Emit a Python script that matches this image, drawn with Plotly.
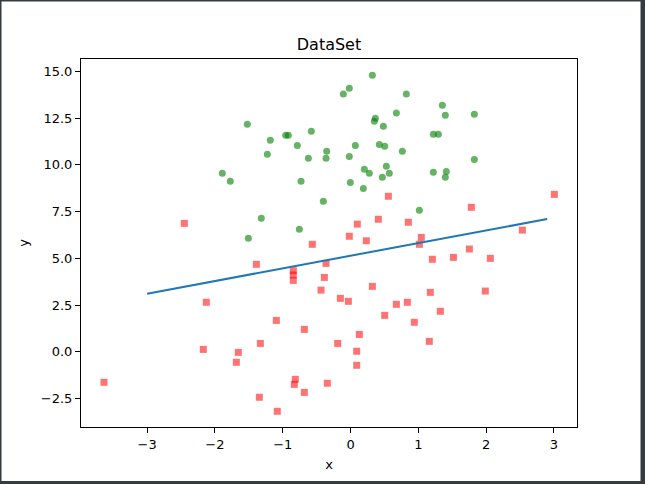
import plotly.graph_objects as go

# Class 1 (green circles)
green_x = [-1.522, -1.183, -0.956, -0.917, -0.578, -0.785, -1.227, -0.622, -0.351, -0.361,
           -1.891, -1.773, -0.730, -0.401, -1.316, -0.755, -1.507, 0.322, -0.018, -0.106,
           0.823, 1.354, 1.398, 1.826, 0.676, 0.366, 0.351, 0.484, 1.221, 1.295,
           0.071, 0.425, 0.504, 0.764, -0.018, 0.204, 0.277, 0.528, 0.572, 0.469,
           1.221, 1.413, 1.398, 1.826, -0.003, 0.189, 1.015]
green_y = [12.17, 11.31, 11.58, 11.58, 11.79, 11.04, 10.56, 10.35, 10.72, 10.35,
           9.55, 9.12, 9.12, 8.05, 7.14, 6.55, 6.07, 14.79, 14.09, 13.79,
           13.79, 13.18, 12.65, 12.70, 12.77, 12.49, 12.33, 12.06, 11.63, 11.63,
           11.04, 11.09, 10.99, 10.72, 10.45, 9.76, 9.55, 9.92, 9.55, 9.33,
           9.60, 9.65, 9.33, 10.29, 9.06, 8.74, 7.57]

# Class 0 (red squares)
red_x = [-2.451, 0.558, 1.782, 3.006, 0.100, 0.410, 0.853, -0.018, 0.233, 1.044,
         2.534, 1.015, 1.207, 1.517, 1.753, 2.062, -0.361, -0.386, -0.435, 0.322,
         -0.150, -0.032, 0.676, 0.838, 1.177, 1.988, 0.504, 1.325, 0.941, 0.130,
         -0.189, 0.091, 0.091, 1.162, -0.342, -0.563, -1.389, -0.844, -0.844, -0.844,
         -2.127, -1.094, -0.681, -1.330, -2.171, -1.655, -1.684, -3.636, -0.814, -0.829,
         -0.681, -1.345, -1.080]
red_y = [6.87, 8.32, 7.73, 8.42, 6.83, 7.09, 6.93, 6.18, 5.94, 6.12,
         6.51, 5.75, 4.95, 5.05, 5.50, 5.00, 4.73, 3.98, 3.30, 3.50,
         2.86, 2.70, 2.54, 2.65, 3.18, 3.25, 1.95, 2.17, 1.58, 0.93,
         0.45, 0.03, -0.72, 0.56, -1.68, 5.75, 4.68, 4.34, 4.11, 3.82,
         2.65, 1.68, 1.20, 0.45, 0.13, -0.03, -0.56, -1.63, -1.47, -1.74,
         -2.17, -2.43, -3.18]

# Decision line endpoints
line_x = [-3.0, 2.9]
line_y = [3.11, 7.10]

x_ticks = [-3, -2, -1, 0, 1, 2, 3]
y_ticks = [-2.5, 0.0, 2.5, 5.0, 7.5, 10.0, 12.5, 15.0]

W, H = 645, 484
L, R, T, B = 81, 68, 59, 57
font = "DejaVu Sans"

fig = go.Figure()
fig.add_trace(go.Scatter(x=green_x, y=green_y, mode="markers",
                         marker=dict(symbol="circle", size=7, color="rgba(0,128,0,0.6)",
                                     line=dict(width=0)), showlegend=False))
fig.add_trace(go.Scatter(x=red_x, y=red_y, mode="markers",
                         marker=dict(symbol="square", size=7, color="rgba(255,0,0,0.55)",
                                     line=dict(width=0)), showlegend=False))
fig.add_trace(go.Scatter(x=line_x, y=line_y, mode="lines",
                         line=dict(color="#1f77b4", width=2), showlegend=False))

axis_common = dict(showgrid=False, zeroline=False, showline=True, mirror=True,
                   linecolor="black", linewidth=1, ticks="outside", ticklen=5,
                   tickwidth=1, tickcolor="black",
                   tickfont=dict(family=font, size=13, color="black"))

fig.update_xaxes(range=[-3.975, 3.34], tickvals=x_ticks,
                 ticktext=[("\u2212" + str(-v)) if v < 0 else str(v) for v in x_ticks],
                 title=dict(text="x", font=dict(family=font, size=13, color="black"), standoff=9),
                 **axis_common)
fig.update_yaxes(range=[-4.02, 15.66], tickvals=y_ticks,
                 ticktext=[("\u2212" + f"{-v:.1f}") if v < 0 else f"{v:.1f}" for v in y_ticks],
                 title=dict(text="y", font=dict(family=font, size=13, color="black"), standoff=9),
                 **axis_common)

def px_x(p):
    return (p - L) / (W - L - R)

def px_y(p):
    return (H - B - p) / (H - T - B)

border = "#363b40"
shapes = []
for (x0, x1, y0, y1) in [(0, W, 0, 1.5), (0, 1.5, 0, H), (640.5, W, 0, H), (481, H, 0, 0)]:
    pass
shapes.append(dict(type="rect", xref="paper", yref="paper", x0=px_x(0), x1=px_x(W),
                   y0=px_y(0), y1=px_y(1.5), fillcolor=border, line=dict(width=0), layer="above"))
shapes.append(dict(type="rect", xref="paper", yref="paper", x0=px_x(0), x1=px_x(1.5),
                   y0=px_y(0), y1=px_y(H), fillcolor=border, line=dict(width=0), layer="above"))
shapes.append(dict(type="rect", xref="paper", yref="paper", x0=px_x(640.5), x1=px_x(W),
                   y0=px_y(0), y1=px_y(H), fillcolor=border, line=dict(width=0), layer="above"))
shapes.append(dict(type="rect", xref="paper", yref="paper", x0=px_x(0), x1=px_x(W),
                   y0=px_y(481), y1=px_y(H), fillcolor=border, line=dict(width=0), layer="above"))

fig.update_layout(
    width=W, height=H,
    margin=dict(l=L, r=R, t=T, b=B),
    paper_bgcolor="white", plot_bgcolor="white",
    title=dict(text="DataSet", x=(L + (W - L - R) / 2) / W, xanchor="center",
               y=1 - 44 / H, yanchor="middle",
               font=dict(family=font, size=16, color="black")),
    shapes=shapes,
)

fig.write_html("out.html")
